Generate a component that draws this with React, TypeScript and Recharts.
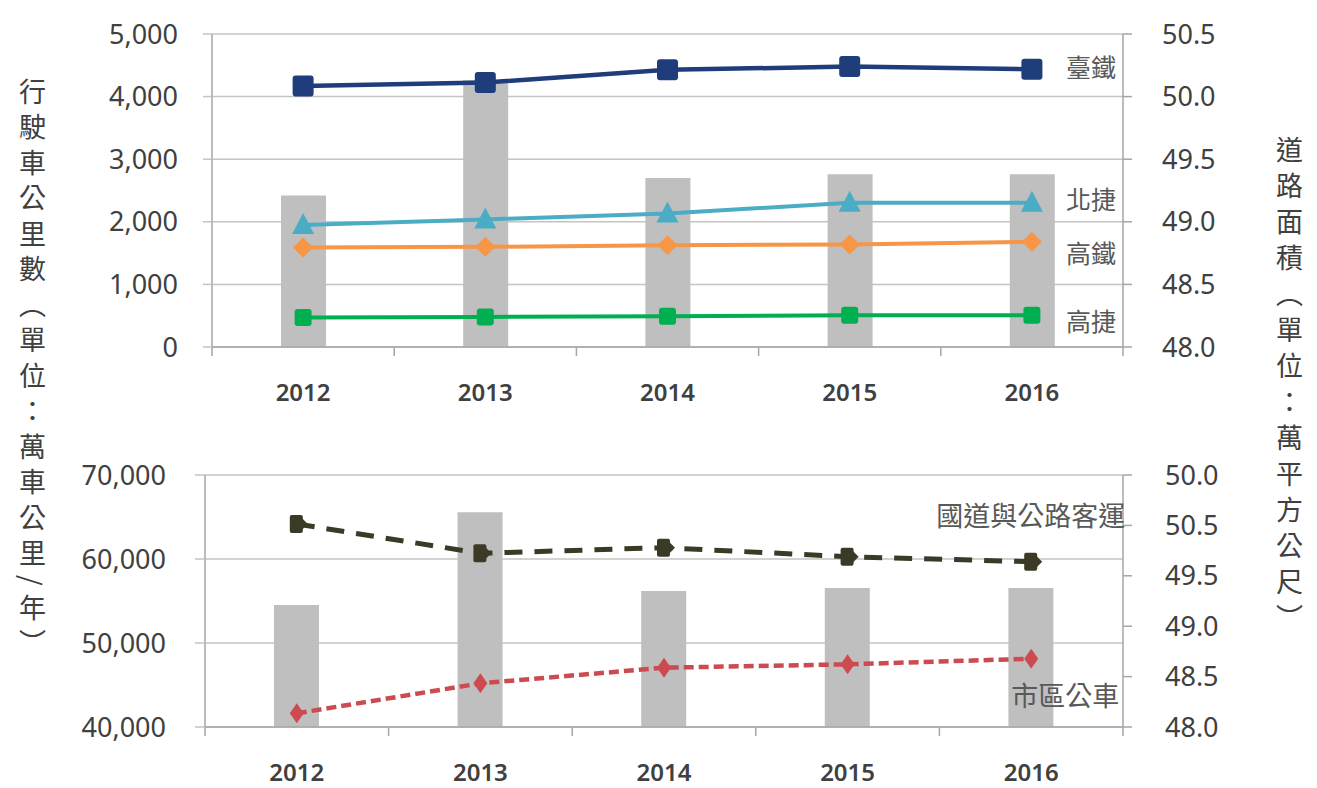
import React from 'react';
import {
  ComposedChart, Bar, Line, XAxis, YAxis, CartesianGrid
} from 'recharts';

const YEARS = ['2012', '2013', '2014', '2015', '2016'];
const ROAD_AREA = [49.21, 50.13, 49.35, 49.38, 49.38];
const TRA = [4171, 4224, 4427, 4480, 4438];
const TAIPEI_MRT = [1947, 2038, 2134, 2304, 2304];
const HSR = [1590, 1600, 1627, 1638, 1680];
const KAOHSIUNG_MRT = [470, 480, 491, 507, 507];
const HIGHWAY_BUS = [64170, 60680, 61350, 60270, 59680];
const CITY_BUS = [41630, 45200, 47060, 47460, 48130];

const TOP_LEFT_TICKS = [0, 1000, 2000, 3000, 4000, 5000];
const BOTTOM_LEFT_TICKS = [40000, 50000, 60000, 70000];
const AREA_TICKS = [48, 48.5, 49, 49.5, 50, 50.5];
const TOP_AREA_LABELS = ['48.0', '48.5', '49.0', '49.5', '50.0', '50.5'];
const BOTTOM_AREA_LABELS = ['48.0', '48.5', '49.0', '49.5', '50.5', '50.0'];
const BAND_TICKS = [0, 1, 2, 3, 4, 5];

const topData = YEARS.map((year, i) => ({
  year, i, area: ROAD_AREA[i],
  tra: TRA[i], trtc: TAIPEI_MRT[i], hsr: HSR[i], krtc: KAOHSIUNG_MRT[i],
}));
const bottomData = YEARS.map((year, i) => ({
  year, i, area: ROAD_AREA[i], highway: HIGHWAY_BUS[i], city: CITY_BUS[i],
}));

const NUM_FONT = '"Noto Sans", "Open Sans", sans-serif';
const CJK_FONT = '"Noto Sans CJK TC", "Noto Sans CJK SC", sans-serif';
const AXIS_GRAY = '#a6a6a6';
const GRID_GRAY = '#c4c4c4';
const TICK_TEXT = { fontSize: 27, fill: '#404040', fontFamily: NUM_FONT };
const YEAR_TEXT = { fontSize: 24, fill: '#404040', fontFamily: NUM_FONT, fontWeight: 600 };

const endLabel = (text: string, dx: number, dy: number, anchor = 'start', size = 25) => (props: any) => {
  const x = props.x ?? props.viewBox?.x;
  const y = props.y ?? props.viewBox?.y;
  if (props.index !== YEARS.length - 1 || x == null) return null;
  return (
    <text x={x + dx} y={y + dy} textAnchor={anchor} dominantBaseline="central"
      fontSize={size} fill="#595959" fontFamily={CJK_FONT}>{text}</text>
  );
};

const squareDot = (color: string, size: number) => (p: any) => (
  <rect key={`s-${p.index}`} x={p.cx - size / 2} y={p.cy - size / 2} width={size} height={size}
    rx={3} fill={color} />
);
const triangleDot = (color: string) => (p: any) => (
  <polygon key={`t-${p.index}`} fill={color}
    points={`${p.cx},${p.cy - 12} ${p.cx - 11},${p.cy + 9} ${p.cx + 11},${p.cy + 9}`} />
);
const diamondDot = (color: string, w: number, h: number) => (p: any) => (
  <polygon key={`d-${p.index}`} fill={color}
    points={`${p.cx},${p.cy - h} ${p.cx + w},${p.cy} ${p.cx},${p.cy + h} ${p.cx - w},${p.cy}`} />
);
const blockDot = (color: string) => (p: any) => (
  <g key={`b-${p.index}`} fill={color}>
    <rect x={p.cx - 7} y={p.cy - 9} width={13} height={18} rx={2} />
    <polygon points={`${p.cx + 5},${p.cy - 6} ${p.cx + 11},${p.cy} ${p.cx + 5},${p.cy + 6}`} />
  </g>
);
const crossDiamondDot = (color: string) => (p: any) => (
  <g key={`c-${p.index}`} fill={color}>
    <polygon points={`${p.cx},${p.cy - 10} ${p.cx + 7},${p.cy} ${p.cx},${p.cy + 10} ${p.cx - 7},${p.cy}`} />
  </g>
);

const titleStyle: React.CSSProperties = {
  position: 'absolute', writingMode: 'vertical-rl', fontFamily: CJK_FONT,
  fontSize: 27, color: '#404040', lineHeight: 1,
};

export default function App() {
  return (
    <div style={{ position: 'absolute', left: 0, top: 0, width: 1317, height: 788, background: '#fff', overflow: 'hidden' }}>
      <div style={{ ...titleStyle, left: 19, top: 78, letterSpacing: 8.5 }}>行駛車公里數（單位：萬車公里/年）</div>
      <div style={{ ...titleStyle, left: 1276, top: 136, letterSpacing: 9 }}>道路面積（單位：萬平方公尺）</div>

      <div style={{ position: 'absolute', left: 0, top: 0 }}>
        <ComposedChart width={1317} height={419} data={topData}
          margin={{ top: 34, right: 0, left: 0, bottom: 0 }}>
          <CartesianGrid horizontal vertical={false} stroke={GRID_GRAY} strokeWidth={1.5}
            xAxisId="year" yAxisId="left" />
          <XAxis xAxisId="band" type="number" dataKey="i" domain={[0, 5]} ticks={BAND_TICKS}
            allowDataOverflow tickFormatter={() => ''} height={12} tickSize={9}
            axisLine={{ stroke: AXIS_GRAY, strokeWidth: 1.5 }} tickLine={{ stroke: AXIS_GRAY, strokeWidth: 1.5 }} />
          <XAxis xAxisId="year" dataKey="year" height={60} axisLine={false} tickLine={false}
            tickSize={0} tickMargin={25} tick={YEAR_TEXT} />
          <YAxis yAxisId="left" width={212} domain={[0, 5000]} ticks={TOP_LEFT_TICKS} allowDataOverflow
            tickFormatter={(v: number) => v.toLocaleString('en-US')} tick={TICK_TEXT}
            tickSize={9} tickMargin={25}
            axisLine={{ stroke: AXIS_GRAY, strokeWidth: 1.5 }} tickLine={{ stroke: GRID_GRAY, strokeWidth: 1.5 }} />
          <YAxis yAxisId="right" orientation="right" width={194} domain={[48, 50.5]} ticks={AREA_TICKS}
            allowDataOverflow tickFormatter={(_v: number, i: number) => TOP_AREA_LABELS[i]} tick={TICK_TEXT}
            tickSize={9} tickMargin={30}
            axisLine={{ stroke: AXIS_GRAY, strokeWidth: 1.5 }} tickLine={{ stroke: AXIS_GRAY, strokeWidth: 1.5 }} />
          <Bar xAxisId="year" yAxisId="right" dataKey="area" fill="#bfbfbf" barSize={45} isAnimationActive={false} />
          <Line xAxisId="year" yAxisId="left" dataKey="krtc" stroke="#00b050" strokeWidth={4}
            dot={squareDot('#00b050', 17)} activeDot={false} isAnimationActive={false}
            label={endLabel('高捷', 34, 5)} />
          <Line xAxisId="year" yAxisId="left" dataKey="hsr" stroke="#f79646" strokeWidth={4}
            dot={diamondDot('#f79646', 10, 10)} activeDot={false} isAnimationActive={false}
            label={endLabel('高鐵', 34, 10)} />
          <Line xAxisId="year" yAxisId="left" dataKey="trtc" stroke="#4bacc6" strokeWidth={4}
            dot={triangleDot('#4bacc6')} activeDot={false} isAnimationActive={false}
            label={endLabel('北捷', 34, -5)} />
          <Line xAxisId="year" yAxisId="left" dataKey="tra" stroke="#1f3d7a" strokeWidth={4.5}
            dot={squareDot('#1f3d7a', 21)} activeDot={false} isAnimationActive={false}
            label={endLabel('臺鐵', 34, -3)} />
        </ComposedChart>
      </div>

      <div style={{ position: 'absolute', left: 0, top: 435 }}>
        <ComposedChart width={1317} height={353} data={bottomData}
          margin={{ top: 40, right: 0, left: 0, bottom: 0 }}>
          <CartesianGrid horizontal vertical={false} stroke={GRID_GRAY} strokeWidth={1.5}
            xAxisId="year" yAxisId="left" />
          <XAxis xAxisId="band" type="number" dataKey="i" domain={[0, 5]} ticks={BAND_TICKS}
            allowDataOverflow tickFormatter={() => ''} height={12} tickSize={9}
            axisLine={{ stroke: AXIS_GRAY, strokeWidth: 1.5 }} tickLine={{ stroke: AXIS_GRAY, strokeWidth: 1.5 }} />
          <XAxis xAxisId="year" dataKey="year" height={49} axisLine={false} tickLine={false}
            tickSize={0} tickMargin={25} tick={YEAR_TEXT} />
          <YAxis yAxisId="left" width={205} domain={[40000, 70000]} ticks={BOTTOM_LEFT_TICKS} allowDataOverflow
            tickFormatter={(v: number) => v.toLocaleString('en-US')} tick={TICK_TEXT}
            tickSize={10} tickMargin={29}
            axisLine={{ stroke: AXIS_GRAY, strokeWidth: 1.5 }} tickLine={{ stroke: GRID_GRAY, strokeWidth: 1.5 }} />
          <YAxis yAxisId="right" orientation="right" width={194} domain={[48, 50.5]} ticks={AREA_TICKS}
            allowDataOverflow tickFormatter={(_v: number, i: number) => BOTTOM_AREA_LABELS[i]} tick={TICK_TEXT}
            tickSize={9} tickMargin={33}
            axisLine={{ stroke: AXIS_GRAY, strokeWidth: 1.5 }} tickLine={{ stroke: AXIS_GRAY, strokeWidth: 1.5 }} />
          <Bar xAxisId="year" yAxisId="right" dataKey="area" fill="#bfbfbf" barSize={45} isAnimationActive={false} />
          <Line xAxisId="year" yAxisId="left" dataKey="city" stroke="#cc4b50" strokeWidth={4.5}
            strokeDasharray="10 5" dot={crossDiamondDot('#cc4b50')} activeDot={false} isAnimationActive={false}
            label={endLabel('市區公車', 88, 36, 'end', 27)} />
          <Line xAxisId="year" yAxisId="left" dataKey="highway" stroke="#3b3a26" strokeWidth={5}
            strokeDasharray="18 12" dot={blockDot('#3b3a26')} activeDot={false} isAnimationActive={false}
            label={endLabel('國道與公路客運', 94, -47, 'end', 27)} />
        </ComposedChart>
      </div>
    </div>
  );
}
